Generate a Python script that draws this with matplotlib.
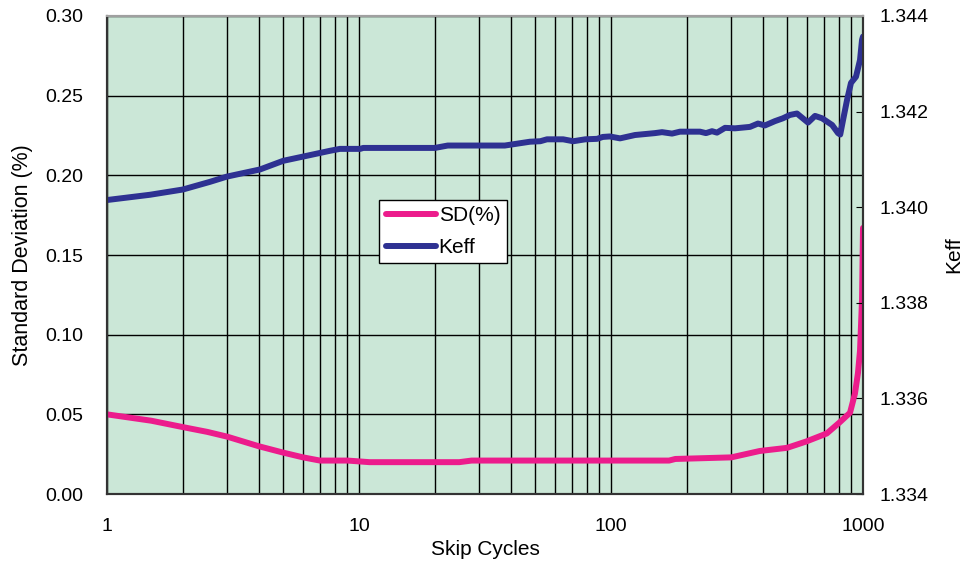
import matplotlib.pyplot as plt
import matplotlib.ticker as mticker

plt.rcParams['font.family'] = ['Liberation Sans', 'DejaVu Sans']

# Standard deviation of the result vs. number of skipped cycles
sd_cycles = [1, 1.5, 2, 2.5, 3, 4, 5, 6, 7, 9, 11, 25, 28, 170, 180, 300, 389,
             500, 596, 718, 808, 888, 929, 955, 973, 991, 1000]
sd_values = [0.050, 0.046, 0.042, 0.039, 0.036, 0.030, 0.026, 0.023, 0.021, 0.021,
             0.020, 0.020, 0.021, 0.021, 0.022, 0.023, 0.027, 0.029, 0.033, 0.038,
             0.045, 0.051, 0.063, 0.076, 0.090, 0.122, 0.167]

# Keff vs. number of skipped cycles
keff_cycles = [1, 1.48, 2.0, 2.56, 2.99, 4.05, 5.0, 6.39, 7.67, 8.4, 10.1, 10.4, 20.0,
               22.5, 37.9, 47.7, 52.4, 55.7, 64.6, 70.8, 79.0, 88.0, 92.8, 98.9,
               108.6, 124.5, 149.5, 159.4, 174.7, 187.8, 225.5, 238.2, 251.6, 263.4,
               283.4, 310.5, 356, 383, 408, 447, 481, 513, 547, 605, 645, 688, 754,
               796, 812, 833, 864, 896, 938, 973, 991, 1000]
keff_values = [1.34015, 1.34026, 1.34037, 1.34053, 1.34064, 1.34079, 1.34097, 1.34109,
               1.34118, 1.34122, 1.34122, 1.34124, 1.34124, 1.34129, 1.34129, 1.34137,
               1.34138, 1.34142, 1.34142, 1.34138, 1.34142, 1.34143, 1.34147, 1.34148,
               1.34144, 1.34151, 1.34155, 1.34157, 1.34154, 1.34158, 1.34158, 1.34155,
               1.34159, 1.34156, 1.34166, 1.34165, 1.34168, 1.34175, 1.34171, 1.34180,
               1.34186, 1.34193, 1.34196, 1.34177, 1.34191, 1.34186, 1.34172, 1.34155,
               1.34152, 1.34182, 1.34224, 1.34260, 1.34273, 1.34308, 1.34350, 1.34357]

sd_ticks = [0.00, 0.05, 0.10, 0.15, 0.20, 0.25, 0.30]
keff_ticks = [1.334, 1.336, 1.338, 1.340, 1.342, 1.344]
x_ticks = [1, 10, 100, 1000]

pink = '#ec1c8c'
navy = '#2e3192'

fig = plt.figure(figsize=(9.7, 5.67), dpi=100)
ax1 = fig.add_axes([0.1103, 0.1287, 0.7794, 0.8431])
ax1.set_facecolor('#cbe7d7')

ax1.set_xscale('log')
ax1.set_xlim(1, 1000)
ax1.set_ylim(0, 0.30)
ax1.set_xticks(x_ticks)
ax1.xaxis.set_major_formatter(mticker.FuncFormatter(lambda v, p: f'{v:g}'))
ax1.xaxis.set_minor_locator(mticker.LogLocator(base=10, subs=range(2, 10)))
ax1.xaxis.set_minor_formatter(mticker.NullFormatter())
ax1.set_yticks(sd_ticks)
ax1.yaxis.set_major_formatter(mticker.FormatStrFormatter('%.2f'))
ax1.grid(True, which='both', axis='x', color='black', linewidth=1.0)
ax1.grid(True, which='major', axis='y', color='black', linewidth=1.0)
ax1.set_axisbelow(True)
ax1.tick_params(axis='y', which='both', length=0, labelsize=14, pad=17)
ax1.tick_params(axis='x', which='both', length=0, labelsize=14, pad=17)
ax1.set_xlabel('Skip Cycles', fontsize=15, labelpad=4)
ax1.set_ylabel('Standard Deviation (%)', fontsize=15.5, labelpad=9)

ax2 = ax1.twinx()
ax2.set_ylim(1.334, 1.344)
ax2.set_yticks(keff_ticks)
ax2.yaxis.set_major_formatter(mticker.FormatStrFormatter('%.3f'))
ax2.tick_params(axis='y', direction='in', length=5, labelsize=14, pad=12)
ax2.set_ylabel('Keff', fontsize=15, labelpad=11)

for ax in (ax1, ax2):
    for side in ('left', 'bottom', 'right'):
        ax.spines[side].set_color('#333333')
        ax.spines[side].set_linewidth(1.5)
    ax.spines['top'].set_color('#a0a0a0')
    ax.spines['top'].set_linewidth(1.5)

l1, = ax1.plot(sd_cycles, sd_values, color=pink, linewidth=4.3,
               solid_capstyle='round', solid_joinstyle='round', label='SD(%)')
l2, = ax2.plot(keff_cycles, keff_values, color=navy, linewidth=4.3,
               solid_capstyle='round', solid_joinstyle='round', label='Keff')

leg = fig.legend(handles=[l1, l2], loc='upper left',
                 bbox_to_anchor=(0.391, 0.647), frameon=True, fancybox=False,
                 fontsize=15, handlelength=2.4, handletextpad=0.15,
                 borderpad=0.3, labelspacing=0.6, borderaxespad=0)
leg.get_frame().set_edgecolor('black')
leg.get_frame().set_linewidth(1.0)
leg.get_frame().set_alpha(1.0)

fig.savefig('out.png', dpi=100)
